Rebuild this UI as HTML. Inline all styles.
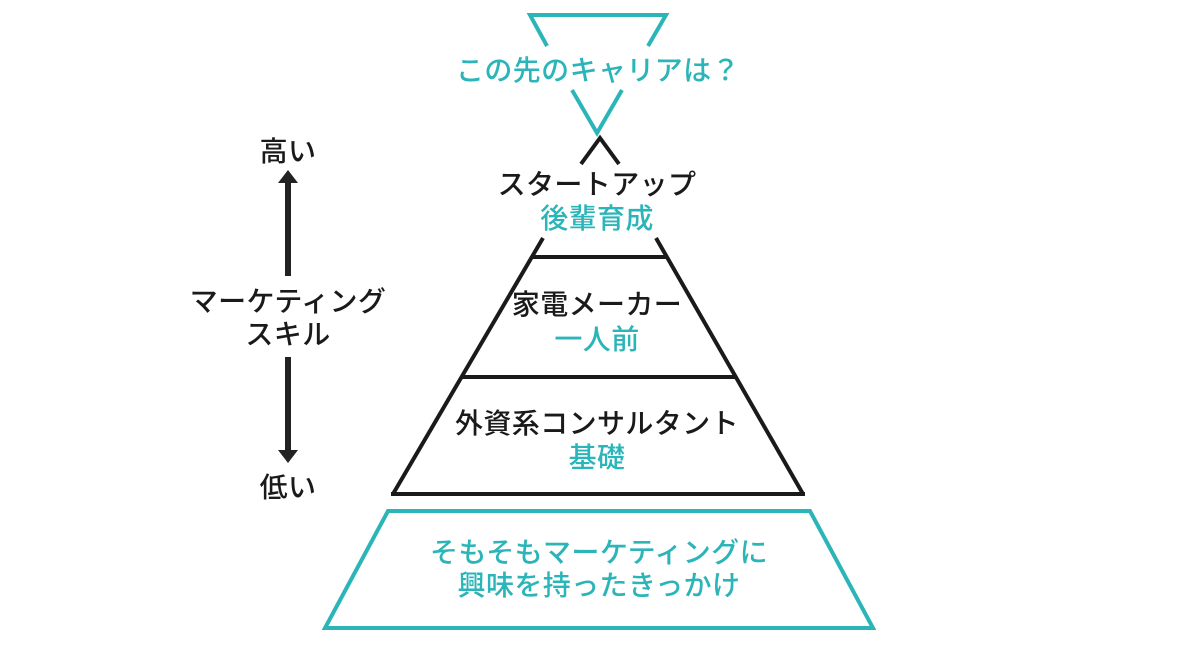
<!DOCTYPE html>
<html><head><meta charset="utf-8"><style>
html,body{margin:0;padding:0;background:#fff;}
svg{display:block}
text{font-family:"Liberation Sans","Noto Sans CJK JP",sans-serif;font-size:28px;font-weight:500;letter-spacing:0.4px;text-anchor:middle;}
.t{fill:#2bb5b8}
.k{fill:#1a1a1a}
</style></head><body>
<svg width="1200" height="661" viewBox="0 0 1200 661" xmlns="http://www.w3.org/2000/svg">
<g stroke="#2bb5b8" stroke-width="4" fill="none" stroke-linejoin="miter">
<polyline points="547,46 530,15 666,15 648,46"/>
<polyline points="572,90 597,133 622,90"/>
</g>
<text class="t" x="598" y="80">この先のキャリアは？</text>
<g stroke="#1a1a1a" stroke-width="4" fill="none">
<polyline points="581,164 600,138 619,164"/>
<line x1="543" y1="238" x2="393" y2="494"/>
<line x1="656" y1="238" x2="803" y2="494"/>
<line x1="531" y1="257" x2="667" y2="257"/>
<line x1="462" y1="377" x2="736" y2="377"/>
<line x1="391" y1="494" x2="805" y2="494"/>
</g>
<text class="k" x="597" y="194">スタートアップ</text>
<text class="t" x="597" y="228">後輩育成</text>
<text class="k" x="597" y="314">家電メーカー</text>
<text class="t" x="597" y="349">一人前</text>
<text class="k" x="597" y="433">外資系コンサルタント</text>
<text class="t" x="597" y="467">基礎</text>
<polygon points="388,511 810,511 873,628 325,628" fill="none" stroke="#2bb5b8" stroke-width="4"/>
<text class="t" x="599" y="562">そもそもマーケティングに</text>
<text class="t" x="599" y="595">興味を持ったきっかけ</text>
<g fill="#222">
<rect x="285" y="180" width="6" height="96"/>
<polygon points="278,183 288,170 298,183"/>
<rect x="285" y="357" width="6" height="96"/>
<polygon points="278,450 288,463 298,450"/>
</g>
<text class="k" x="288" y="161">高い</text>
<text class="k" x="288" y="311">マーケティング</text>
<text class="k" x="288" y="344">スキル</text>
<text class="k" x="288" y="497">低い</text>
</svg>
</body></html>
